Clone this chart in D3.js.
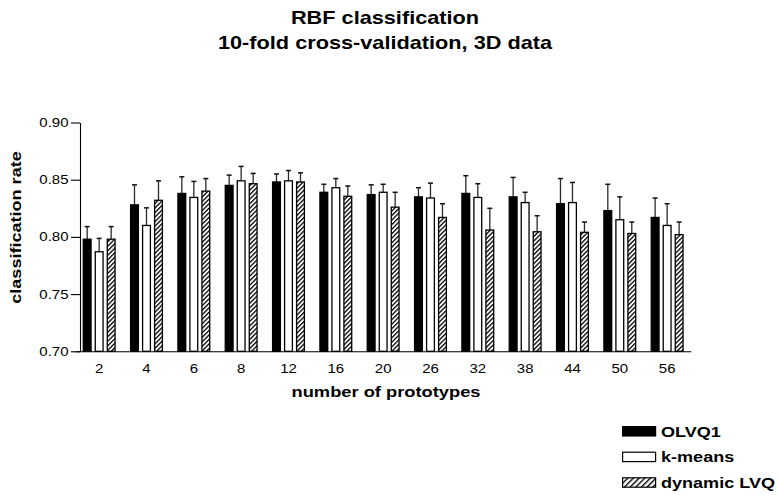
<!DOCTYPE html>
<html>
<head>
<meta charset="utf-8">
<script src="https://cdn.jsdelivr.net/npm/d3@7"></script>
<style>
  html, body { margin: 0; padding: 0; background: #fff; }
  svg { display: block; font-family: "Liberation Sans", Arial, sans-serif; }
</style>
</head>
<body>
<svg id="chart" width="779" height="495"></svg>
<script>
// Number of prototypes tested
const prototypes = ["2", "4", "6", "8", "12", "16", "20", "26", "32", "38", "44", "50", "56"];
const seriesNames = ["OLVQ1", "k-means", "dynamic LVQ"];

// Mean classification rate per method
const olvq1Mean   = [0.798, 0.828, 0.838, 0.845, 0.848, 0.839, 0.837, 0.835, 0.838, 0.835, 0.829, 0.823, 0.817];
const kmeansMean  = [0.787, 0.810, 0.8345, 0.849, 0.849, 0.843, 0.839, 0.834, 0.8345, 0.830, 0.830, 0.815, 0.810];
const dynLvqMean  = [0.798, 0.832, 0.840, 0.8465, 0.848, 0.8355, 0.826, 0.817, 0.806, 0.8045, 0.804, 0.803, 0.802];

// Standard deviation over the 10 folds
const olvq1Sd  = [0.011, 0.0175, 0.0145, 0.009, 0.007, 0.007, 0.0085, 0.008, 0.0155, 0.017, 0.022, 0.023, 0.017];
const kmeansSd = [0.0117, 0.0154, 0.014, 0.0126, 0.009, 0.008, 0.007, 0.013, 0.012, 0.009, 0.0176, 0.020, 0.019];
const dynLvqSd = [0.011, 0.017, 0.011, 0.009, 0.008, 0.009, 0.013, 0.012, 0.019, 0.014, 0.009, 0.010, 0.011];

const yTicks = [0.70, 0.75, 0.80, 0.85, 0.90];

const titleLines = ["RBF classification", "10-fold cross-validation, 3D data"];
const xTitle = "number of prototypes";
const yTitle = "classification rate";

// Widen glyphs horizontally, as in the original export
const STRETCH = 1.22;

const svg = d3.select("#chart");

const means = [olvq1Mean, kmeansMean, dynLvqMean];
const sds = [olvq1Sd, kmeansSd, dynLvqSd];
const rows = [];
prototypes.forEach((p, i) => {
  seriesNames.forEach((s, k) => {
    rows.push({ cat: p, series: s, k, mean: means[k][i], sd: sds[k][i] });
  });
});

const x = d3.scaleBand().domain(prototypes).range([75.5, 690.8]).paddingInner(0).paddingOuter(0);
const xs = d3.scaleBand().domain(seriesNames).range([-18, 18]).paddingInner(0.25).paddingOuter(0.125);
const y = d3.scaleLinear().domain([0.70, 0.90]).range([351.3, 122.5]);

// Hatch pattern for dynamic LVQ
const defs = svg.append("defs");
const pat = defs.append("pattern")
  .attr("id", "hatch")
  .attr("patternUnits", "userSpaceOnUse")
  .attr("width", 3.2).attr("height", 3.2)
  .attr("patternTransform", "rotate(45)");
pat.append("rect").attr("width", 3.2).attr("height", 3.2).attr("fill", "#fff");
pat.append("line").attr("x1", 0.6).attr("y1", 0).attr("x2", 0.6).attr("y2", 3.2)
  .attr("stroke", "#000").attr("stroke-width", 1.4);

const patL = defs.append("pattern")
  .attr("id", "hatchLegend")
  .attr("patternUnits", "userSpaceOnUse")
  .attr("width", 4).attr("height", 4)
  .attr("patternTransform", "rotate(45)");
patL.append("rect").attr("width", 4).attr("height", 4).attr("fill", "#fff");
patL.append("line").attr("x1", 0.7).attr("y1", 0).attr("x2", 0.7).attr("y2", 4)
  .attr("stroke", "#000").attr("stroke-width", 1.4);

const fills = { "OLVQ1": "#000", "k-means": "#fff", "dynamic LVQ": "url(#hatch)" };
const legendFills = { "OLVQ1": "#000", "k-means": "#fff", "dynamic LVQ": "url(#hatchLegend)" };

function stretchText(sel) {
  sel.each(function () {
    const t = d3.select(this);
    const tx = +t.attr("x") || 0;
    const ty = +t.attr("y") || 0;
    t.attr("x", 0).attr("y", 0)
      .attr("transform", `translate(${tx},${ty}) scale(${STRETCH},1)`);
  });
}

// Title
svg.append("g").selectAll("text").data(titleLines).join("text")
  .attr("x", 385).attr("y", (d, i) => 23.5 + i * 25.5)
  .attr("text-anchor", "middle")
  .attr("font-size", 17.8).attr("font-weight", "bold").attr("fill", "#000")
  .text(d => d)
  .call(stretchText);

// Error bars (drawn under the bars so they start at the bar top)
const err = svg.append("g");
err.selectAll("line.stem").data(rows).join("line")
  .attr("class", "stem")
  .attr("x1", d => x(d.cat) + x.bandwidth() / 2 + xs(d.series) + xs.bandwidth() / 2)
  .attr("x2", d => x(d.cat) + x.bandwidth() / 2 + xs(d.series) + xs.bandwidth() / 2)
  .attr("y1", d => y(d.mean))
  .attr("y2", d => y(d.mean + d.sd))
  .attr("stroke", "#2a2a2a").attr("stroke-width", 1.3);
err.selectAll("line.cap").data(rows).join("line")
  .attr("class", "cap")
  .attr("x1", d => x(d.cat) + x.bandwidth() / 2 + xs(d.series) + xs.bandwidth() / 2 - 2.5)
  .attr("x2", d => x(d.cat) + x.bandwidth() / 2 + xs(d.series) + xs.bandwidth() / 2 + 2.5)
  .attr("y1", d => y(d.mean + d.sd))
  .attr("y2", d => y(d.mean + d.sd))
  .attr("stroke", "#111").attr("stroke-width", 1.5);

// Bars
svg.append("g").selectAll("rect").data(rows).join("rect")
  .attr("x", d => x(d.cat) + x.bandwidth() / 2 + xs(d.series) + 0.6)
  .attr("width", xs.bandwidth() - 1.2)
  .attr("y", d => y(d.mean))
  .attr("height", d => y(0.70) - y(d.mean))
  .attr("fill", d => fills[d.series])
  .attr("stroke", "#000").attr("stroke-width", 1.3);

// Y axis
const yAxis = svg.append("g")
  .attr("transform", "translate(80,0)")
  .call(d3.axisLeft(y).tickValues(yTicks).tickFormat(d3.format(".2f")).tickSize(9).tickSizeOuter(0).tickPadding(2.5));
yAxis.selectAll("path, line").attr("stroke", "#000").attr("stroke-width", 1.1);
yAxis.selectAll("text")
  .attr("font-size", 12.3).attr("fill", "#000")
  .attr("font-family", "Liberation Sans, Arial, sans-serif")
  .call(stretchText);

// X axis
const xAxis = svg.append("g")
  .attr("transform", `translate(0,${y(0.70)})`)
  .call(d3.axisBottom(x).tickSize(0).tickSizeOuter(0).tickPadding(13));
xAxis.select(".domain").attr("stroke", "#000").attr("stroke-width", 1.1);
xAxis.selectAll("text")
  .attr("font-size", 12.3).attr("fill", "#000")
  .attr("font-family", "Liberation Sans, Arial, sans-serif")
  .call(stretchText);

// Axis titles
svg.append("text")
  .attr("x", 386).attr("y", 397)
  .attr("text-anchor", "middle")
  .attr("font-size", 15).attr("font-weight", "bold")
  .text(xTitle)
  .call(stretchText);

svg.append("text")
  .attr("transform", `translate(20.7,227.5) rotate(-90) scale(${STRETCH},1)`)
  .attr("text-anchor", "middle")
  .attr("font-size", 14.8).attr("font-weight", "bold")
  .text(yTitle);

// Legend
const legend = svg.append("g").attr("transform", "translate(622,426)");
const lg = legend.selectAll("g").data(seriesNames).join("g")
  .attr("transform", (d, i) => `translate(0,${i * 25.6})`);
lg.append("rect")
  .attr("x", 0.6).attr("y", 0.6).attr("width", 33).attr("height", 9.4)
  .attr("fill", d => legendFills[d])
  .attr("stroke", "#000").attr("stroke-width", 1.2);
lg.append("text")
  .attr("x", 39).attr("y", 10.5)
  .attr("font-size", 14.8).attr("font-weight", "bold")
  .text(d => d)
  .call(stretchText);
</script>
</body>
</html>
